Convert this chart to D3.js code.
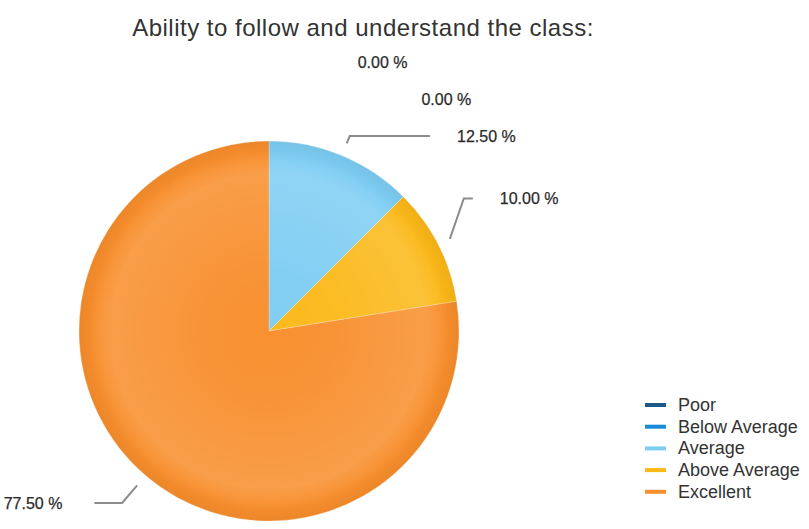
<!DOCTYPE html>
<html>
<head>
<meta charset="utf-8">
<script src="https://cdn.jsdelivr.net/npm/d3@7"></script>
<style>
  html, body { margin: 0; padding: 0; background: #fff; }
  svg { display: block; font-family: "Liberation Sans", Arial, sans-serif; }
</style>
</head>
<body>
<svg id="chart" width="809" height="529"></svg>
<script>
// Survey answers for "Ability to follow and understand the class"
const categories = ["Poor", "Below Average", "Average", "Above Average", "Excellent"];
const shares = [0.00, 0.00, 12.50, 10.00, 77.50];
const seriesColors = ["#1d5a8a", "#1a8bd6", "#7dcdf3", "#fbb817", "#f88e2c"];
const chartTitle = "Ability to follow and understand the class:";

const width = 809, height = 529;
const cx = 269, cy = 331, radius = 190;

const svg = d3.select("#chart");

// Soft rounded bevel overlay used on every slice (gradient centred on the pie)
const defs = svg.append("defs");
const bevel = defs.append("radialGradient")
  .attr("id", "bevel")
  .attr("gradientUnits", "userSpaceOnUse")
  .attr("cx", 0).attr("cy", 0).attr("r", radius);
[[0, 0.02], [0.33, 0.05], [0.83, 0.14], [0.95, 0.0], [1, 0.0]].forEach(([o, a]) => {
  bevel.append("stop").attr("offset", o).attr("stop-color", "#fff").attr("stop-opacity", a);
});
const edge = defs.append("radialGradient")
  .attr("id", "edge")
  .attr("gradientUnits", "userSpaceOnUse")
  .attr("cx", 0).attr("cy", 0).attr("r", radius);
[[0.9, 0.0], [1, 0.05]].forEach(([o, a]) => {
  edge.append("stop").attr("offset", o).attr("stop-color", "#000").attr("stop-opacity", a);
});

// Title
svg.append("text")
  .attr("x", 363).attr("y", 36)
  .attr("text-anchor", "middle")
  .attr("font-size", 24)
  .attr("letter-spacing", 0.5)
  .attr("fill", "#333")
  .text(chartTitle);

const data = categories.map((c, i) => ({ category: c, value: shares[i], color: seriesColors[i] }));

const pie = d3.pie().sort(null).value(d => d.value).startAngle(0).endAngle(2 * Math.PI);
const arcs = pie(data);
const arc = d3.arc().innerRadius(0).outerRadius(radius);

const g = svg.append("g").attr("transform", `translate(${cx},${cy})`);
const slices = g.selectAll("g.slice").data(arcs.filter(a => a.data.value > 0)).join("g").attr("class", "slice");
slices.append("path").attr("d", arc).attr("fill", d => d.data.color);
slices.append("path").attr("d", arc).attr("fill", "url(#bevel)");
slices.append("path").attr("d", arc).attr("fill", "url(#edge)");
slices.append("path").attr("d", arc).attr("fill", "none")
  .attr("stroke", "#fff").attr("stroke-opacity", 0.3).attr("stroke-width", 0.8);

// Outside labels: laid out on a circle, then nudged apart vertically
const labelR = 292, gap = 37, labelTop = cy - 269, labelBottom = height - 26;
const fmt = v => d3.format(".2f")(v) + " %";
const mid = a => (a.startAngle + a.endAngle) / 2;
const items = arcs.map(a => {
  const m = mid(a);
  return { arc: a, m, right: Math.sin(m) >= 0, y: cy - labelR * Math.cos(m) };
});
const rightSide = items.filter(d => d.right).sort((a, b) => a.m - b.m);
const leftSide = items.filter(d => !d.right).sort((a, b) => b.m - a.m);
[rightSide, leftSide].forEach(list => {
  list.forEach((d, i) => {
    d.y = Math.min(labelBottom, Math.max(labelTop, d.y));
    if (i > 0) d.y = Math.max(d.y, list[i - 1].y + gap);
  });
});
items.forEach(d => {
  const dy = d.y - cy;
  const dx = Math.sqrt(Math.max(0, labelR * labelR - dy * dy));
  d.x = d.right ? cx + dx : cx - dx;
});

const labelG = svg.append("g");
items.forEach(d => {
  const t = labelG.append("text")
    .attr("x", d.x).attr("y", d.y)
    .attr("text-anchor", "middle")
    .attr("dominant-baseline", "central")
    .attr("font-size", 16)
    .attr("fill", "#2b2b2b")
    .attr("stroke", "#2b2b2b")
    .attr("stroke-width", 0.25)
    .text(fmt(d.arc.data.value));
  if (d.arc.data.value <= 0) return;
  const bb = t.node().getBBox();
  const dirX = Math.sin(d.m), dirY = -Math.cos(d.m);
  const start = [cx + (radius + 13) * dirX, cy + (radius + 13) * dirY];
  const end = [d.right ? bb.x - 27 : bb.x + bb.width + 32, d.y];
  const t1 = (d.y - start[1]) / dirY;
  let midX = start[0] + t1 * dirX;
  if (d.right) midX = Math.min(midX, end[0] - 9);
  else midX = Math.max(midX, end[0] + 15);
  labelG.append("path")
    .attr("d", d3.line()([start, [midX, d.y], end]))
    .attr("fill", "none")
    .attr("stroke", "#8c8c8c")
    .attr("stroke-width", 2);
});

// Legend
const legend = svg.append("g").attr("transform", "translate(645,405)");
const li = legend.selectAll("g").data(data).join("g")
  .attr("transform", (d, i) => `translate(0,${i * 21.7})`);
li.append("rect").attr("x", 0).attr("y", -2).attr("width", 21).attr("height", 4).attr("fill", d => d.color);
li.append("text").attr("x", 33).attr("y", 0).attr("dominant-baseline", "central")
  .attr("font-size", 18).attr("fill", "#333").text(d => d.category);
</script>
</body>
</html>
